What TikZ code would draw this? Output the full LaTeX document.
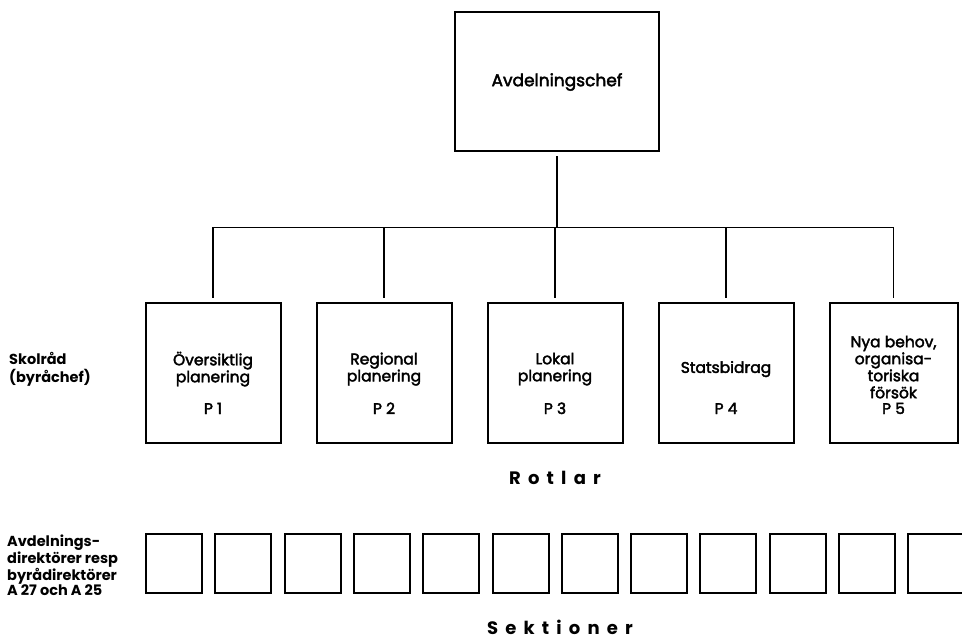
\documentclass[tikz,border=0pt]{standalone}
\usepackage{fontspec}
\setmainfont{Poppins}
\newfontfamily\boxfont{Poppins}[FakeBold=2.5]
\usetikzlibrary{positioning}

\begin{document}
\begin{tikzpicture}[x=1pt, y=-1pt,
  chefbox/.style={draw, line width=2pt, minimum width=204pt,
    minimum height=139pt, inner sep=0pt,
    font=\boxfont\fontsize{17}{20}\selectfont},
  rotbox/.style={draw, line width=2pt, minimum width=135pt,
    minimum height=140pt, inner sep=0pt, align=center,
    font=\boxfont\fontsize{15.5}{17}\selectfont,
    execute at end node={\rule[-12pt]{0pt}{0pt}}},
  ptag/.style={anchor=base, label distance=-30pt,
    font=\boxfont\fontsize{15.5}{17}\selectfont},
  sectbox/.style={draw, line width=2pt, minimum width=56pt,
    minimum height=59pt, inner sep=0pt},
  sidelabel/.style={anchor=west, align=left, inner sep=0pt},
  spaced/.style={font=\bfseries\fontsize{18}{20}\selectfont
    \addfontfeature{LetterSpace=40}},
  conn/.style={line width=1.5pt}]
  \useasboundingbox [fill=white] (0,0) rectangle (962,639);

  % head of the division
  \node [chefbox] (chef) at (557,82) {Avdelningschef};%
  \coordinate [below=75pt of chef.south] (jn);%

  % rotlar
  \node [rotbox, label={[ptag]south:P 1}] (p1) at (213,373)
  {Översiktlig\\planering};%
  \node [rotbox, right=34pt of p1, label={[ptag]south:P 2}] (p2)
  {Regional\\planering};%
  \node [rotbox, right=34pt of p2, label={[ptag]south:P 3}] (p3)
  {Lokal\\planering};%
  \node [rotbox, right=34pt of p3, label={[ptag]south:P 4}] (p4)
  {Statsbidrag};%
  \node [rotbox, right=34pt of p4, minimum width=128pt,
  label={[ptag]south:P 5}] (p5)
  {Nya behov,\\organisa-\\toriska\\försök};%

  \draw [conn, shorten <=4pt] (chef) -- (jn);%
  \draw [conn] (jn -| p1.north) -- (jn -| p5.north);%
  \foreach \i in {1,...,5}
  \draw [conn, shorten >=4pt] (jn -| p\i.north) -- (p\i);%

  \node [sidelabel, font=\bfseries\fontsize{14.5}{18}\selectfont] (skolrad)
  at (9,369) {Skolråd\\(byråchef)};%
  \node [spaced, below=24pt of p3] (rotlar) {Rotlar};%

  % sektioner
  \node [sectbox] (s1) at (174,563.5) {};%
  \foreach \i [remember=\i as \prev (initially 1)] in {2,...,12}
  \node [sectbox, right=11.3pt of s\prev] (s\i) {};%

  \node [sidelabel, font=\bfseries\fontsize{14.5}{15}\selectfont] (avdir)
  at (7,565) {Avdelnings-\\direktörer resp\\byrådirektörer\\A 27 och A 25};%
  \node [spaced] (sektioner) at (560,627) {Sektioner};%
\end{tikzpicture}
\end{document}
